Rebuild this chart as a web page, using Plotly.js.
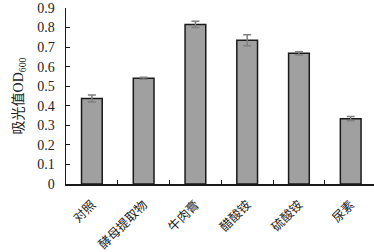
<!DOCTYPE html>
<html><head><meta charset="utf-8">
<script src="https://cdn.plot.ly/plotly-3.0.1.min.js"></script>
<style>html,body{margin:0;padding:0;background:#fff}#c{width:374px;height:252px}</style>
</head><body><div id="c"></div>
<script>
const categories = ['对照','酵母提取物','牛肉膏','醋酸铵','硫酸铵','尿素'];
const values = [0.437, 0.541, 0.816, 0.735, 0.668, 0.334];
const errors = [0.018, 0.005, 0.016, 0.028, 0.008, 0.011];
const yTicks = [0,0.1,0.2,0.3,0.4,0.5,0.6,0.7,0.8,0.9];
const yTickText = ['0','0.1','0.2','0.3','0.4','0.5','0.6','0.7','0.8','0.9'];

const serif = '"Liberation Serif", "Noto Sans CJK SC", serif';
Plotly.newPlot('c', [{
  type:'bar', x:categories, y:values,
  width:0.4,
  marker:{color:'#a0a0a0', line:{color:'#1a1a1a', width:1.5}},
  error_y:{type:'data', array:errors, visible:true, color:'#808080', thickness:1.5, width:4}
}], {
  width:374, height:252,
  margin:{l:66, r:0, t:8, b:68},
  paper_bgcolor:'#fff', plot_bgcolor:'#fff',
  showlegend:false,
  xaxis:{type:'category', range:[-0.5,5.45], showline:true, linecolor:'#1a1a1a', linewidth:1.5,
    ticks:'inside', tickson:'boundaries', ticklen:4, tickcolor:'#1a1a1a', tickwidth:1,
    tickangle:-45, ticklabelstandoff:7, tickfont:{family:'"Noto Sans CJK SC", serif', size:12.5, color:'#222'},
    showgrid:false, zeroline:false},
  yaxis:{range:[0,0.9], tickvals:yTicks, ticktext:yTickText, showline:true, linecolor:'#1a1a1a', linewidth:1.5,
    ticks:'inside', ticklen:4, tickcolor:'#1a1a1a', tickwidth:1, ticklabelstandoff:7,
    tickfont:{family:serif, size:14, color:'#222'}, showgrid:false, zeroline:false,
    title:{text:'吸光值OD<sub>600</sub>', font:{family:serif, size:14, color:'#222'}, standoff:10}}
}, {displayModeBar:false, staticPlot:true});
</script></body></html>
